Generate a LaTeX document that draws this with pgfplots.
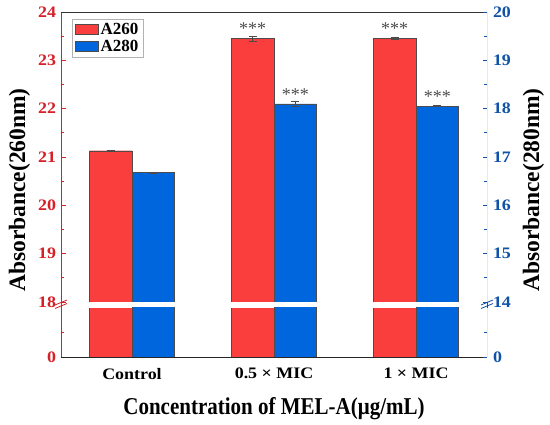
\documentclass[border=0pt]{standalone}
\usepackage{graphicx}
\usepackage{pgfplots}
\pgfplotsset{compat=1.18}
\usepackage{fontspec}
\setmainfont{Liberation Serif}
\definecolor{barred}{RGB}{250,62,62}
\definecolor{barblue}{RGB}{0,102,221}
\definecolor{axred}{RGB}{214,32,40}
\definecolor{axblue}{RGB}{16,82,168}
\definecolor{errgray}{RGB}{75,75,75}
\newcommand{\tfont}{\fontsize{16}{19}\selectfont\bfseries}
\newcommand{\hs}[1]{\scalebox{1.12}[1]{#1}}
\tikzset{stars/.style={anchor=base, text=errgray, font=\fontsize{18}{20}\selectfont}}
\begin{document}
\begin{tikzpicture}[x=1pt,y=1pt]
\path[use as bounding box] (0pt,0pt) rectangle (550pt,424pt);
\pgfplotsset{
  base/.style={scale only axis, width=426pt, xmin=-0.5, xmax=2.5,
    anchor=south west, axis line style={draw=none},
    /pgf/number format/assume math mode=true,
    ticklabel style={font=\tfont},
    yticklabel={\hs{\pgfmathprintnumber{\tick}}},
    ybar, bar width=0.3, clip=true,
    major tick length=4.5pt, minor tick length=3pt},
  redbar/.style={fill=barred, draw=gray!60!black, line width=0.4pt, bar shift=-0.15},
  bluebar/.style={fill=barblue, draw=gray!60!black, line width=0.4pt, bar shift=0.15},
  errs/.style={error bars/.cd, y dir=both, y explicit,
    error bar style={errgray, line width=0.8pt},
    error mark options={errgray, line width=0.8pt, mark size=4pt, rotate=90}},
  leftax/.style={y tick style={axred, line width=0.8pt}, yticklabel style={text=axred, xshift=-1.5pt}},
  rightax/.style={y tick style={axblue, line width=0.8pt}, yticklabel style={text=axblue, xshift=2.5pt}},
}
% upper left (A260)
\begin{axis}[base, leftax, at={(61pt,122pt)}, height=290pt, ymin=18, ymax=24,
  ytick={18,19,...,24}, minor y tick num=1, ytick pos=left, xtick=\empty,
  legend style={at={(0.026,0.976)}, anchor=north west, draw=gray!60,
    font=\fontsize{17}{20}\selectfont\bfseries, cells={anchor=west},
    inner xsep=3pt, inner ysep=2pt},
  legend image code/.code={\draw[#1] (0pt,-5pt) rectangle (23pt,5pt);}]
\addplot[redbar, errs] coordinates {(0,21.13) +- (0,0.01) (1,23.45) +- (0,0.05) (2,23.45) +- (0,0.02)};
\addlegendentry{A260}
\addlegendimage{fill=barblue, draw=gray!60!black, line width=0.4pt}
\addlegendentry{A280}
\draw[axred, line width=0.8pt] (rel axis cs:0,0) -- (rel axis cs:0,1);
\draw[black!80, line width=0.8pt] (rel axis cs:0,1) -- (rel axis cs:1,1);
\node[stars] at (axis cs:0.85,23.53) {***};
\node[stars] at (axis cs:1.85,23.53) {***};
\end{axis}
% upper right (A280)
\begin{axis}[base, rightax, at={(61pt,122pt)}, height=290pt, ymin=14, ymax=20,
  ytick={14,15,...,20}, minor y tick num=1, ytick pos=right, yticklabel pos=right, xtick=\empty]
\addplot[bluebar, errs] coordinates {(0,16.68) +- (0,0.01) (1,18.10) +- (0,0.05) (2,18.05) +- (0,0.01)};
\draw[axblue, line width=0.8pt] (rel axis cs:1,0) -- (rel axis cs:1,1);
\node[stars] at (axis cs:1.15,18.17) {***};
\node[stars] at (axis cs:2.15,18.13) {***};
\end{axis}
% lower left
\begin{axis}[base, leftax, at={(61pt,67pt)}, height=49pt, ymin=0, ymax=18,
  ytick={0}, minor ytick={9}, ytick pos=left,
  xtick={0,1,2}, xticklabels={\hs{Control}, \hs{0.5 × MIC}, \hs{1 × MIC}},
  x tick style={draw=none}, xticklabel style={font=\fontsize{16}{19}\selectfont\bfseries, yshift=-3pt}]
\addplot[redbar] coordinates {(0,21.13) (1,23.45) (2,23.45)};
\draw[axred, line width=0.8pt] (rel axis cs:0,0) -- (rel axis cs:0,1);
\draw[black!85, line width=1pt] (rel axis cs:0,0) -- (rel axis cs:1,0);
\end{axis}
% lower right
\begin{axis}[base, rightax, at={(61pt,67pt)}, height=49pt, ymin=0, ymax=14,
  ytick={0}, minor ytick={7}, ytick pos=right, yticklabel pos=right, xtick=\empty]
\addplot[bluebar] coordinates {(0,16.68) (1,18.10) (2,18.05)};
\draw[axblue, line width=0.8pt] (rel axis cs:1,0) -- (rel axis cs:1,1);
\end{axis}
% axis breaks
\draw[axred, line width=0.8pt] (61pt,116pt) -- (61pt,122pt);
\draw[axred, line width=0.8pt] (55pt,115.5pt) -- (67pt,120.5pt) (55pt,119pt) -- (67pt,124pt);
\draw[axblue, line width=0.8pt] (487pt,116pt) -- (487pt,122pt);
\draw[axblue, line width=0.8pt] (481pt,115.5pt) -- (493pt,120.5pt) (481pt,119pt) -- (493pt,124pt);
% axis titles
\node[anchor=base, font=\fontsize{21}{24}\selectfont\bfseries] at (274pt,10pt) {\scalebox{1}[1.15]{Concentration of MEL-A(μg/mL)}};
\node[anchor=base, rotate=90, font=\fontsize{23.5}{26}\selectfont\bfseries] at (25pt,234pt) {Absorbance(260nm)};
\node[anchor=base, rotate=90, font=\fontsize{23.5}{26}\selectfont\bfseries] at (539pt,234pt) {Absorbance(280nm)};
\end{tikzpicture}
\end{document}
